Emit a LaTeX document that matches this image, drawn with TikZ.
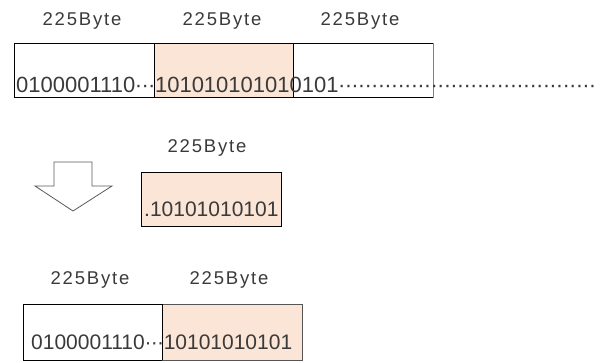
\documentclass[tikz,border=0pt]{standalone}
\usepackage{fontspec}
\setmainfont{Liberation Sans}
\newfontfamily\sizefont[LetterSpace=10]{Liberation Sans}
\definecolor{peach}{HTML}{FBE5D6}
\definecolor{ink}{HTML}{3A3A3A}
\definecolor{edge}{HTML}{555555}
\definecolor{arrowline}{HTML}{5A5A5A}
% centred ellipsis: three middle dots spread over 0.9em
\newcommand\midellip{\makebox[0.3em]{·}\makebox[0.3em]{·}\makebox[0.3em]{·}}

\begin{document}
\begin{tikzpicture}[x=1pt,y=-1pt,
  cell/.style={draw=black, line width=0.9pt, inner sep=0pt, outer sep=0pt},
  data/.style={anchor=base west, inner sep=0pt, text=ink,
    font=\fontsize{21}{21}\selectfont},
  size/.style={anchor=base, inner sep=0pt, text=ink,
    font=\sizefont\fontsize{18.5}{18.5}\selectfont}]
\useasboundingbox (0,0) rectangle (603,363);

% --- original stream: three 225-byte blocks ---
\node[cell, minimum width=140.2pt, minimum height=54.4pt] (b1) at (84.4,70.5) {};
\node[cell, minimum width=139.5pt, minimum height=54.4pt] (b3) at (363.2,70.5) {};
\node[cell, fill=peach, minimum width=139pt, minimum height=54.4pt] (b2) at (224,70.5) {};
\draw[line width=0.9pt, gray] (b3.north east) -- (b3.south east);

\node[size] (s1) at (82,26) {225Byte};
\node[size] (s2) at (222,26) {225Byte};
\node[size] (s3) at (360,26) {225Byte};

\node[data, font=\fontsize{22}{22}\selectfont] (t1) at (16,93)
  {0100001110\midellip101010101010101\midellip\midellip\midellip\midellip\midellip\midellip\midellip\midellip\midellip\midellip\midellip\midellip\midellip};

% --- down arrow ---
\draw[draw=arrowline, fill=white, line width=0.8pt, line join=miter]
  (54,162) -- (92,162) -- (92,186) -- (112,186) -- (73,211) -- (35,186) -- (54,186) -- cycle;

% --- extracted block ---
\node[size] (s4) at (207,153) {225Byte};
\node[cell, fill=peach, minimum width=140pt, minimum height=54pt] (m) at (211.7,199.7) {};
\node[data] (t2) at (144,217) {.10101010101};

% --- resulting stream ---
\node[size] (s5) at (90,285) {225Byte};
\node[size] (s6) at (229,285) {225Byte};
\node[cell, minimum width=139.5pt, minimum height=56pt] (c1) at (92.7,332) {};
\node[cell, draw=edge, fill=peach, minimum width=139.8pt, minimum height=56pt] (c2) at (232.4,332) {};
\draw[line width=0.9pt] (c2.north west) -- (c2.south west);
\node[data] (t3) at (31,350) {0100001110\midellip10101010101};
\end{tikzpicture}
\end{document}
